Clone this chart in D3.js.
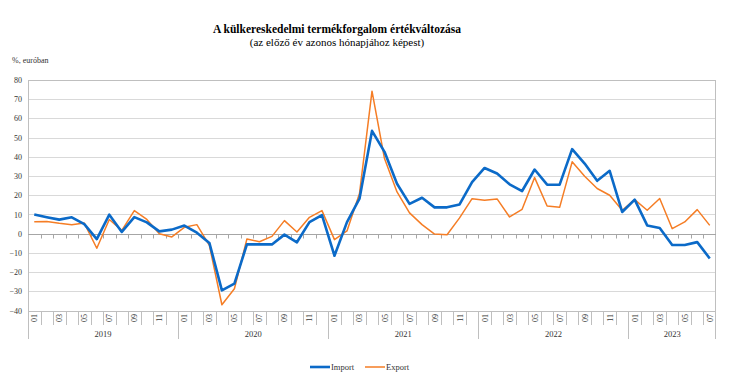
<!DOCTYPE html>
<html>
<head>
<meta charset="utf-8">
<script src="https://cdn.jsdelivr.net/npm/d3@7"></script>
<style>
  body { margin: 0; background: #fff; }
  text { font-family: "Liberation Serif", "Times New Roman", serif; }
</style>
</head>
<body>
<div id="chart"></div>
<script>
// Years and month labels of the category axis
const years = ["2019", "2020", "2021", "2022", "2023"];
const monthsPerYear = [12, 12, 12, 12, 7];
const monthLabels = ["01", "", "03", "", "05", "", "07", "", "09", "", "11", ""];

// Year-on-year change, %, in euro
const importValues = [
    10.0, 8.6, 7.3, 8.5, 5.0, -2.8, 9.9, 0.9, 8.6, 5.9, 1.2, 2.1,
    4.2, 0.5, -4.8, -29.5, -26.0, -5.6, -5.6, -5.6, -0.5, -4.5, 6.0, 9.7,
    -11.5, 6.0, 18.2, 53.5, 42.6, 26.0, 15.5, 18.7, 13.7, 13.7, 15.2, 26.8,
    34.2, 31.3, 25.7, 22.2, 33.4, 25.5, 25.5, 44.0, 36.5, 27.5, 32.7, 11.3,
    17.7, 4.3, 3.0, -5.9, -5.9, -4.4, -12.9
];
const exportValues = [
    6.2, 6.3, 5.4, 4.7, 5.5, -7.6, 7.4, 1.7, 12.0, 7.4, 0.0, -1.7,
    3.3, 4.7, -6.1, -37.0, -28.7, -2.8, -4.2, -1.4, 6.8, 0.9, 8.5, 12.0,
    -3.1, 1.4, 20.9, 74.2, 39.1, 21.7, 10.8, 4.7, -0.2, -0.6, 8.2, 18.2,
    17.4, 18.1, 8.7, 12.7, 29.2, 14.4, 13.7, 37.4, 29.9, 23.5, 20.0, 12.2,
    17.7, 12.2, 18.3, 2.6, 6.1, 12.5, 4.3
];
const yTicks = [-40, -30, -20, -10, 0, 10, 20, 30, 40, 50, 60, 70, 80];

const width = 730, height = 387;
const plotLeft = 28, plotRight = 716, plotTop = 80, plotBottom = 310.5;

// month table built from the arrays above
const months = [];
years.forEach((y, yi) => {
    for (let m = 0; m < monthsPerYear[yi]; m++) {
        months.push({ year: y, label: monthLabels[m], first: m === 0, index: months.length });
    }
});

const svg = d3.select("#chart")
    .append("svg")
    .attr("width", width)
    .attr("height", height);

const xScale = d3.scaleBand()
    .domain(months.map(d => d.index))
    .range([plotLeft, plotRight]);

const yScale = d3.scaleLinear()
    .domain([-40, 80])
    .range([plotBottom, plotTop]);

// Titles
svg.append("text")
    .attr("x", 337)
    .attr("y", 33)
    .attr("text-anchor", "middle")
    .style("font-size", "11.5px")
    .style("font-weight", "bold")
    .text("A külkereskedelmi termékforgalom értékváltozása");

svg.append("text")
    .attr("x", 337)
    .attr("y", 46)
    .attr("text-anchor", "middle")
    .style("font-size", "11px")
    .text("(az előző év azonos hónapjához képest)");

svg.append("text")
    .attr("x", 12)
    .attr("y", 63)
    .style("font-size", "8px")
    .attr("fill", "#333")
    .text("%, euróban");

// Gridlines
svg.append("g")
    .selectAll("line")
    .data(yTicks)
    .enter()
    .append("line")
    .attr("x1", plotLeft)
    .attr("x2", plotRight)
    .attr("y1", d => Math.round(yScale(d)) + 0.5)
    .attr("y2", d => Math.round(yScale(d)) + 0.5)
    .attr("stroke", "#d9d9d9")
    .attr("stroke-width", 1);

// Y axis labels
const yAxis = svg.append("g")
    .attr("transform", `translate(${plotLeft},0)`)
    .call(d3.axisLeft(yScale)
        .tickValues(yTicks)
        .tickSize(0)
        .tickPadding(6)
        .tickFormat(d => d < 0 ? "\u2212" + Math.abs(d) : d));
yAxis.select(".domain").remove();
yAxis.selectAll("text")
    .style("font-family", "'Liberation Serif', serif")
    .style("font-size", "8px")
    .attr("fill", "#333");

// Plot border
svg.append("rect")
    .attr("x", plotLeft + 0.5)
    .attr("y", Math.round(plotTop) + 0.5)
    .attr("width", plotRight - plotLeft - 1)
    .attr("height", Math.round(plotBottom) - Math.round(plotTop))
    .attr("fill", "none")
    .attr("stroke", "#bfbfbf");

// Zero axis with month ticks
const zeroY = Math.round(yScale(0)) + 0.5;
svg.append("line")
    .attr("x1", plotLeft).attr("x2", plotRight)
    .attr("y1", zeroY).attr("y2", zeroY)
    .attr("stroke", "#a6a6a6");
svg.append("g")
    .selectAll("line")
    .data(months.slice(1))
    .enter()
    .append("line")
    .attr("x1", d => Math.round(xScale(d.index)) + 0.5)
    .attr("x2", d => Math.round(xScale(d.index)) + 0.5)
    .attr("y1", zeroY)
    .attr("y2", zeroY + 4)
    .attr("stroke", "#a6a6a6");

// Category axis below the plot: month cells and year groups
const catTop = Math.round(plotBottom);
svg.append("g")
    .selectAll("line")
    .data(months)
    .enter()
    .append("line")
    .attr("x1", d => Math.round(xScale(d.index)) + 0.5)
    .attr("x2", d => Math.round(xScale(d.index)) + 0.5)
    .attr("y1", catTop)
    .attr("y2", d => d.first ? 339 : 325)
    .attr("stroke", "#bfbfbf");

svg.append("line")
    .attr("x1", plotRight - 0.5).attr("x2", plotRight - 0.5)
    .attr("y1", catTop).attr("y2", 339)
    .attr("stroke", "#bfbfbf");

svg.append("g")
    .selectAll("text")
    .data(months.filter(d => d.label !== ""))
    .enter()
    .append("text")
    .attr("transform", d => `translate(${xScale(d.index) + xScale.bandwidth() / 2 + 3},${catTop + 3}) rotate(-90)`)
    .attr("text-anchor", "end")
    .style("font-size", "8px")
    .attr("fill", "#333")
    .text(d => d.label);

let start = 0;
years.forEach((y, yi) => {
    const first = xScale(start);
    const last = xScale(start + monthsPerYear[yi] - 1) + xScale.bandwidth();
    svg.append("text")
        .attr("x", (first + last) / 2)
        .attr("y", 337)
        .attr("text-anchor", "middle")
        .style("font-size", "8.5px")
        .attr("fill", "#333")
        .text(y);
    start += monthsPerYear[yi];
});

// Series lines
const line = d3.line()
    .x((d, i) => xScale(i) + xScale.bandwidth() / 2)
    .y(d => yScale(d));

svg.append("path")
    .datum(exportValues)
    .attr("fill", "none")
    .attr("stroke", "#f57d25")
    .attr("stroke-width", 1.5)
    .attr("stroke-linejoin", "round")
    .attr("d", line);

svg.append("path")
    .datum(importValues)
    .attr("fill", "none")
    .attr("stroke", "#0b6ac8")
    .attr("stroke-width", 2.6)
    .attr("stroke-linejoin", "round")
    .attr("d", line);

// Legend
const legend = [
    { name: "Import", color: "#0b6ac8", width: 2.6, x: 310 },
    { name: "Export", color: "#f57d25", width: 1.5, x: 365 }
];
legend.forEach(l => {
    svg.append("line")
        .attr("x1", l.x).attr("x2", l.x + 20)
        .attr("y1", 367).attr("y2", 367)
        .attr("stroke", l.color)
        .attr("stroke-width", l.width);
    svg.append("text")
        .attr("x", l.x + 21)
        .attr("y", 370)
        .style("font-size", "8.5px")
        .attr("fill", "#333")
        .text(l.name);
});
</script>
</body>
</html>
